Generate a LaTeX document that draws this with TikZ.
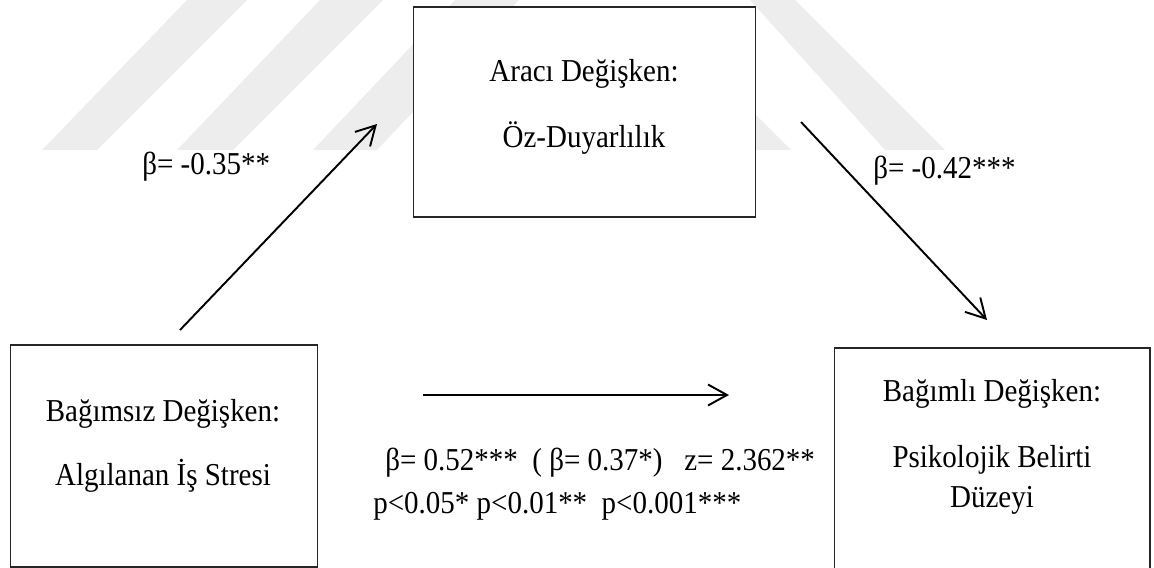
\documentclass[tikz,border=0pt]{standalone}
\usepackage{fontspec}
\usepackage{graphicx}
\setmainfont{Liberation Serif}
\usetikzlibrary{arrows.meta}
\newcommand{\tall}[1]{\scalebox{1}[1.1]{#1}}
\tikzset{
  box/.style={draw=black!85, line width=0.6pt, fill=white, inner sep=0pt, rectangle},
  lbl/.style={anchor=base, inner sep=0pt, font=\fontsize{16.5}{18}\selectfont},
  conn/.style={line width=1.1pt, -{Straight Barb[length=0.38cm,width=0.42cm,line width=1.1pt]}},
  wm/.style={fill=black!7, draw=none}
}
\begin{document}
\begin{tikzpicture}[x=0.02cm,y=-0.02cm]
\useasboundingbox (0,0) rectangle (1154,568);
% faint watermark
\fill[wm] (187,0) -- (247,0) -- (97,150) -- (42,150) -- cycle;
\fill[wm] (320,0) -- (383,0) -- (233,150) -- (177,150) -- cycle;
\fill[wm] (455,0) -- (519,0) -- (377,150) -- (313,150) -- cycle;
\fill[wm] (750,0) -- (795,0) -- (945,150) -- (885,150) -- cycle;
\fill[wm] (756,115) -- (791,150) -- (756,150) -- cycle;
% boxes
\node[box, minimum width=6.86cm, minimum height=4.2cm] (mid) at (584.5,112) {};
\node[box, minimum width=6.16cm, minimum height=4.44cm] (left) at (164,456) {};
\node[box, minimum width=6.32cm, minimum height=4.48cm] (right) at (992,460) {};
% box texts
\node[lbl] (m1) at (584,81) {\tall{Aracı Değişken:}};
\node[lbl] (m2) at (584,147) {\tall{Öz-Duyarlılık}};
\node[lbl] (l1) at (163,421) {\tall{Bağımsız Değişken:}};
\node[lbl] (l2) at (163,485) {\tall{Algılanan İş Stresi}};
\node[lbl] (r1) at (992,401) {\tall{Bağımlı Değişken:}};
\node[lbl] (r2) at (992,467) {\tall{Psikolojik Belirti}};
\node[lbl] (r3) at (992,507) {\tall{Düzeyi}};
% connector end points
\coordinate (a1s) at (180,330);
\coordinate (a1e) at (377,124);
\coordinate (a2s) at (801,122);
\coordinate (a2e) at (987,320);
\coordinate (a3s) at (423,395);
\coordinate (a3e) at (729,395);
\draw[conn] (a1s) -- (a1e);
\draw[conn] (a2s) -- (a2e);
\draw[conn] (a3s) -- (a3e);
% labels
\node[lbl, anchor=base west] (b1) at (142,174) {\tall{β= -0.35**}};
\node[lbl, anchor=base west] (b2) at (873,178) {\tall{β= -0.42***}};
\node[lbl, anchor=base west] (b3) at (385,470) {\tall{β= 0.52***~~( β= 0.37*)~~ z= 2.362**}};
\node[lbl, anchor=base west] (b4) at (373,513) {\tall{p<0.05* p<0.01**~~p<0.001***}};
\end{tikzpicture}
\end{document}
